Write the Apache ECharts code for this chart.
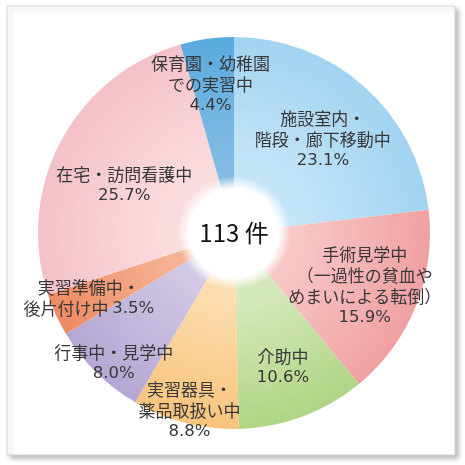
<!DOCTYPE html>
<html><head><meta charset="utf-8">
<script src="https://cdn.jsdelivr.net/npm/echarts/dist/echarts.min.js"></script>
<style>html,body{margin:0;padding:0;background:#fff;}#c{width:465px;height:465px;}</style>
</head><body><div id="c"></div>
<script>
// ---- data ----
const categories = [
  '施設室内・\n階段・廊下移動中',
  '手術見学中\n（一過性の貧血や\nめまいによる転倒）',
  '介助中',
  '実習器具・\n薬品取扱い中',
  '行事中・見学中',
  '実習準備中・\n後片付け中',
  '在宅・訪問看護中',
  '保育園・幼稚園\nでの実習中'
];
const values = [23.1, 15.9, 10.6, 8.8, 8.0, 3.5, 25.7, 4.4];
const totalCases = 113;
const totalUnit = '件';

// ---- styles ----
const innerColors = ['#c4e5f8', '#f8c6c5', '#d5e8bb', '#fcdcae', '#d0c8e4', '#f5b295', '#fadcdf', '#82bce4'];
const outerColors = ['#a2d3f1', '#f0a0a2', '#b0d585', '#f8c47c', '#b4a7d3', '#ee8a62', '#f4c1c8', '#5aaadf'];
const labelRadius = [126, 138, 140, 180, 174, 156, 117, 147];
const labelAngleShift = [2.0, 0.3, 0.5, -0.3, -1.9, 0.6, -4.3, -1.1];
const inlinePercent = [false, false, false, false, false, true, false, false];
const CX = 234, CY = 233, R = 196;

const total = values.reduce((a, b) => a + b, 0);
let cum = 0;
const data = values.map((v, i) => {
  const mid = (cum + v / 2) / total * 2 * Math.PI + labelAngleShift[i] * Math.PI / 180;
  cum += v;
  const midBase = (cum - v / 2) / total * 2 * Math.PI;
  // anchor of an 'inside' label is at R/2 on the slice's mid angle
  const ax = (R / 2) * Math.sin(midBase), ay = -(R / 2) * Math.cos(midBase);
  const tx = labelRadius[i] * Math.sin(mid), ty = -labelRadius[i] * Math.cos(mid);
  return {
    value: v,
    name: categories[i],
    itemStyle: {
      color: {
        type: 'radial', x: CX, y: CY, r: R, global: true,
        colorStops: [
          { offset: 0, color: innerColors[i] },
          { offset: 0.35, color: innerColors[i] },
          { offset: 1, color: outerColors[i] }
        ]
      }
    },
    label: { offset: [tx - ax, ty - ay] }
  };
});

const JP = '"Noto Sans CJK JP", sans-serif';
const chart = echarts.init(document.getElementById('c'), null, { renderer: 'canvas' });
chart.setOption({
  animation: false,
  graphic: {
    elements: [{
      type: 'rect', z: 0,
      shape: { x: 7, y: 6, width: 448, height: 449 },
      style: {
        fill: '#fff', stroke: '#d6d6d6', lineWidth: 1,
        shadowColor: 'rgba(0,0,0,0.28)', shadowBlur: 5, shadowOffsetX: 3, shadowOffsetY: 3
      }
    }]
  },
  series: [
    {
      type: 'pie',
      center: [CX, CY],
      radius: [0, R],
      startAngle: 90,
      clockwise: true,
      silent: true,
      avoidLabelOverlap: false,
      z: 2,
      itemStyle: { borderWidth: 0 },
      label: {
        show: true,
        position: 'inside',
        fontFamily: JP,
        fontSize: 17,
        lineHeight: 21,
        color: '#383838',
        formatter: p => p.name + (inlinePercent[p.dataIndex] ? ' ' : '\n') + '{pct|' + p.value.toFixed(1) + '%}',
        rich: {
          pct: { fontFamily: '"DejaVu Sans", sans-serif', fontSize: 16.5, lineHeight: 21, color: '#383838' }
        }
      },
      labelLayout: { hideOverlap: false },
      labelLine: { show: false },
      emphasis: { disabled: true },
      data: data
    },
    {
      type: 'pie',
      center: [CX, CY],
      radius: [0, 57],
      silent: true,
      z: 5,
      emphasis: { disabled: true },
      labelLine: { show: false },
      itemStyle: {
        color: {
          type: 'radial', x: 0.5, y: 0.5, r: 0.5,
          colorStops: [
            { offset: 0, color: '#ffffff' },
            { offset: 0.78, color: '#ffffff' },
            { offset: 1, color: 'rgba(255,255,255,0)' }
          ]
        }
      },
      label: {
        show: true, position: 'center',
        formatter: totalCases + ' ' + totalUnit,
        fontFamily: JP,
        fontSize: 24, color: '#111'
      },
      data: [{ value: 1, name: 'total' }]
    }
  ]
});
</script>
</body></html>
